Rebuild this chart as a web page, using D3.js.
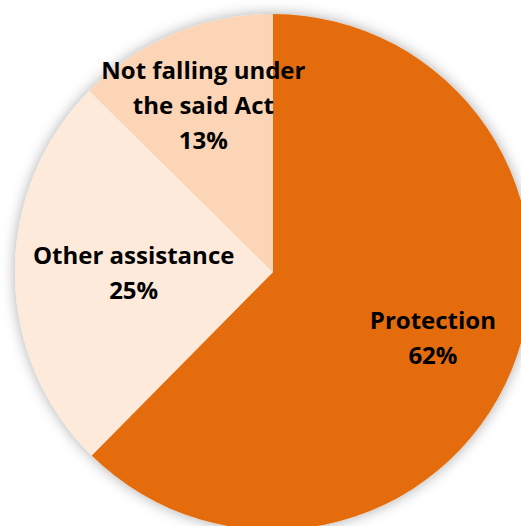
<!DOCTYPE html>
<html>
<head>
<meta charset="utf-8">
<script src="https://cdn.jsdelivr.net/npm/d3@7"></script>
<style>
  html, body { margin: 0; padding: 0; background: #fff; overflow: hidden; }
</style>
</head>
<body>
<div id="grafico"></div>
<script>
// dados do gráfico
const categorias = ["Protection", "Other assistance", "Not falling under the said Act"];
const valores = [62.4, 25.0, 12.6];
const rotulos = [["Protection", "62%"], ["Other assistance", "25%"], ["Not falling under", "the said Act", "13%"]];
const cores = ["#E46C0A", "#FDEADA", "#FBD5B5"];

// layout
const width = 521, height = 526;
const cx = 273, cy = 272, raio = 258;
const raioRotulo = [0.67, 0.54, 0.70];
const alturaLinha = 35;

const svg = d3.select("#grafico").append("svg")
    .attr("width", width)
    .attr("height", height)
    .attr("viewBox", [0, 0, width, height]);

const defs = svg.append("defs");
const filtro = defs.append("filter").attr("id", "sombra")
    .attr("x", "-20%").attr("y", "-20%").attr("width", "140%").attr("height", "140%");
filtro.append("feDropShadow")
    .attr("dx", 0).attr("dy", 0)
    .attr("stdDeviation", 7)
    .attr("flood-color", "#000")
    .attr("flood-opacity", 0.33);

const pie = d3.pie().sort(null).value(d => d);
const arcos = pie(valores);
const arc = d3.arc().innerRadius(0).outerRadius(raio);

const g = svg.append("g").attr("transform", `translate(${cx},${cy})`);

g.append("g").attr("filter", "url(#sombra)")
  .selectAll("path")
  .data(arcos)
  .join("path")
    .attr("d", arc)
    .attr("fill", (d, i) => cores[i]);

const rot = g.selectAll("text.rotulo")
  .data(arcos)
  .join("text")
    .attr("class", "rotulo")
    .attr("transform", (d, i) => {
        const a = d3.arc().innerRadius(raio * raioRotulo[i]).outerRadius(raio * raioRotulo[i]);
        const [x, y] = a.centroid(d);
        return `translate(${x},${y})`;
    })
    .attr("text-anchor", "middle")
    .attr("font-family", "'Open Sans', 'Noto Sans', sans-serif")
    .attr("font-weight", 700)
    .attr("font-size", 24)
    .attr("fill", "#000");

rot.each(function(d, i) {
    const linhas = rotulos[i];
    const t = d3.select(this);
    const inicio = -(linhas.length - 1) * alturaLinha / 2 + 8.5;
    linhas.forEach((l, j) => {
        t.append("tspan").attr("x", 0).attr("y", inicio + j * alturaLinha).text(l);
    });
});
</script>
</body>
</html>
